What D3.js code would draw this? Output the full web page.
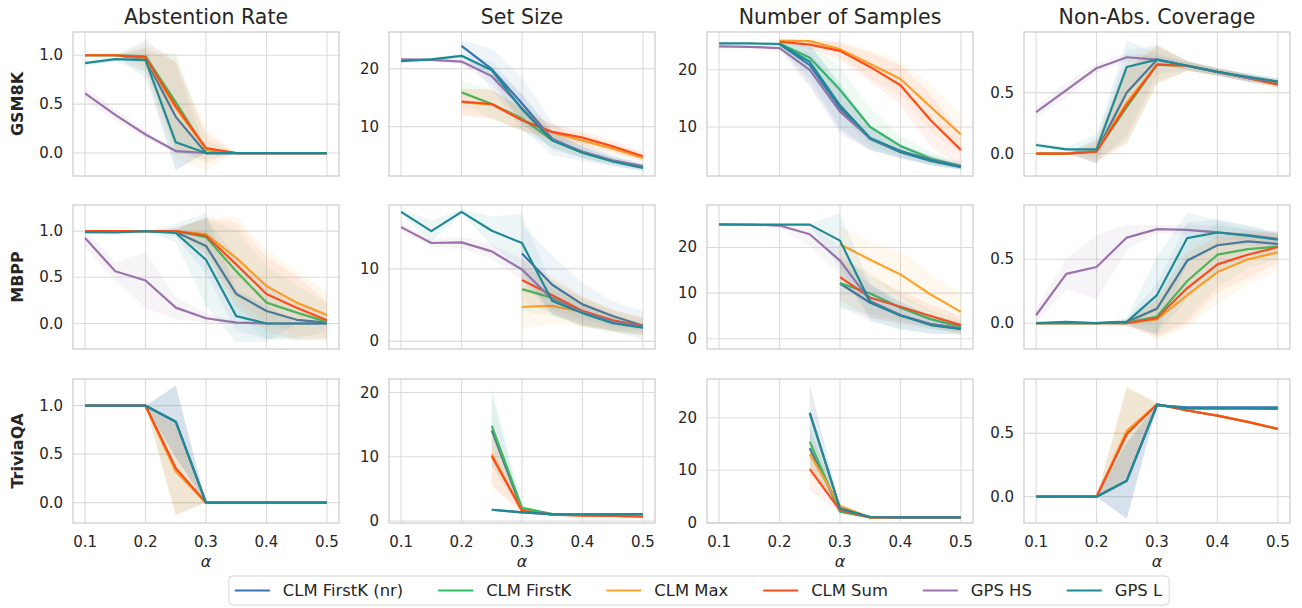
<!DOCTYPE html>
<html>
<head>
<meta charset="utf-8">
<script src="https://cdn.jsdelivr.net/npm/d3@7"></script>
<style>
  body { margin: 0; background: #fff; }
  text { font-family: "DejaVu Sans", sans-serif; fill: #262626; }
</style>
</head>
<body>
<svg id="chart" width="1302" height="608"></svg>
<script>
// alpha levels on the x axis
const alphas = [0.1, 0.15, 0.2, 0.25, 0.3, 0.35, 0.4, 0.45, 0.5];
const methods = ["CLM FirstK (nr)", "CLM FirstK", "CLM Max", "CLM Sum", "GPS HS", "GPS L"];
const colors = ["#3574b4", "#2fbf62", "#fba52c", "#fc4e1a", "#9c73ab", "#1f8a94"];
const datasets = ["GSM8K", "MBPP", "TriviaQA"];
const metrics = ["Abstention Rate", "Set Size", "Number of Samples", "Non-Abs. Coverage"];
const xTicks = [0.1, 0.2, 0.3, 0.4, 0.5];

// each panel: one row per method (same order as methods), mean and sd
const gsm8kAbstention = [
  [1, 1, 0.96, 0.37, 0, 0, 0, 0, 0],
  [1, 1, 0.99, 0.52, 0.03, 0, 0, 0, 0],
  [1, 1, 0.97, 0.46, 0.04, 0, 0, 0, 0],
  [1, 1, 0.98, 0.48, 0.05, 0, 0, 0, 0],
  [0.61, 0.39, 0.19, 0.02, 0, 0, 0, 0, 0],
  [0.92, 0.96, 0.95, 0.11, 0, 0, 0, 0, 0]
];
const gsm8kAbstentionSd = [
  [0, 0, 0.2, 0.55, 0, 0, 0, 0, 0],
  [0, 0, 0.03, 0.5, 0.1, 0, 0, 0, 0],
  [0, 0, 0.15, 0.52, 0.21, 0, 0, 0, 0],
  [0, 0, 0.1, 0.45, 0.15, 0, 0, 0, 0],
  [0.06, 0.06, 0.04, 0.02, 0, 0, 0, 0, 0],
  [0.03, 0.03, 0.12, 0.28, 0, 0, 0, 0, 0]
];
const gsm8kSetSize = [
  [null, null, 23.9, 19.9, 14.0, 7.9, 5.6, 4.1, 3.0],
  [null, null, 15.9, 13.9, 11.4, 7.7, 5.5, 4.1, 3.0],
  [null, null, 14.2, 13.8, 11.2, 9.0, 7.6, 6.2, 4.6],
  [null, null, 14.3, 13.9, 11.1, 9.1, 8.1, 6.6, 4.9],
  [21.6, 21.5, 21.2, 18.7, 13.2, 7.8, 5.7, 4.2, 3.2],
  [21.3, 21.6, 22.2, 19.7, 13.0, 7.6, 5.5, 4.0, 2.9]
];
const gsm8kSetSizeSd = [
  [0, 0, 1.0, 3.5, 4.5, 2.8, 1.5, 1.0, 0.6],
  [0, 0, 2.0, 2.5, 2.0, 1.2, 0.9, 0.7, 0.5],
  [0, 0, 2.3, 2.5, 2.0, 1.3, 1.2, 1.0, 0.8],
  [0, 0, 2.2, 2.5, 1.8, 1.3, 1.2, 1.0, 0.8],
  [0.3, 0.3, 0.5, 1.5, 2.5, 1.5, 1.0, 0.7, 0.5],
  [0.3, 0.3, 0.5, 1.5, 2.5, 1.5, 1.0, 0.7, 0.5]
];
const gsm8kSamples = [
  [null, null, 24.5, 20.8, 13.3, 7.9, 5.6, 4.1, 3.0],
  [null, null, 24.6, 22.1, 16.5, 10.0, 6.7, 4.5, 3.2],
  [null, null, 25.1, 25.0, 23.6, 21.0, 18.4, 13.5, 8.7],
  [null, null, 24.9, 24.4, 23.3, 20.5, 17.3, 11.2, 6.0],
  [24.1, 24.0, 23.8, 20.0, 12.7, 8.0, 5.8, 4.3, 3.2],
  [24.6, 24.6, 24.5, 21.4, 13.8, 8.1, 5.8, 4.2, 3.1]
];
const gsm8kSamplesSd = [
  [0, 0, 0.5, 3.5, 4.0, 2.0, 1.2, 0.8, 0.5],
  [0, 0, 0.4, 2.5, 4.0, 3.3, 1.8, 1.2, 0.7],
  [0, 0, 0.2, 0.6, 1.2, 2.5, 3.0, 4.0, 3.5],
  [0, 0, 0.3, 0.8, 1.5, 2.5, 3.5, 4.5, 3.0],
  [0.3, 0.3, 0.5, 3.0, 4.0, 2.0, 1.2, 0.8, 0.5],
  [0.2, 0.2, 0.4, 3.0, 4.0, 2.0, 1.2, 0.8, 0.5]
];
const gsm8kCoverage = [
  [0, 0, 0.02, 0.5, 0.77, 0.72, 0.67, 0.62, 0.585],
  [0, 0, 0.02, 0.38, 0.73, 0.72, 0.67, 0.62, 0.57],
  [0, 0, 0.02, 0.42, 0.73, 0.72, 0.67, 0.62, 0.57],
  [0, 0, 0.015, 0.40, 0.73, 0.72, 0.67, 0.62, 0.565],
  [0.34, 0.52, 0.70, 0.79, 0.77, 0.72, 0.67, 0.62, 0.59],
  [0.07, 0.035, 0.035, 0.71, 0.77, 0.72, 0.67, 0.63, 0.59]
];
const gsm8kCoverageSd = [
  [0, 0, 0.1, 0.35, 0.12, 0.04, 0.03, 0.03, 0.03],
  [0, 0, 0.05, 0.3, 0.15, 0.04, 0.03, 0.03, 0.03],
  [0, 0, 0.1, 0.35, 0.17, 0.04, 0.03, 0.03, 0.03],
  [0, 0, 0.08, 0.3, 0.15, 0.04, 0.03, 0.03, 0.03],
  [0.05, 0.06, 0.04, 0.03, 0.03, 0.03, 0.03, 0.03, 0.03],
  [0.02, 0.02, 0.12, 0.22, 0.05, 0.03, 0.03, 0.03, 0.03]
];

const mbppAbstention = [
  [1, 1, 1, 0.99, 0.84, 0.32, 0.136, 0.04, 0.01],
  [1, 1, 1, 1, 0.935, 0.566, 0.226, 0.118, 0.018],
  [1, 1, 1, 1, 0.968, 0.71, 0.405, 0.226, 0.093],
  [1, 1, 1, 1, 0.95, 0.64, 0.32, 0.17, 0.036],
  [0.925, 0.566, 0.466, 0.172, 0.057, 0.01, 0, 0, 0],
  [0.99, 0.985, 1.0, 0.98, 0.69, 0.08, 0, 0, 0]
];
const mbppAbstentionSd = [
  [0, 0, 0, 0.05, 0.3, 0.4, 0.3, 0.2, 0.1],
  [0, 0, 0, 0.03, 0.2, 0.45, 0.4, 0.3, 0.2],
  [0, 0, 0, 0.02, 0.18, 0.45, 0.4, 0.35, 0.25],
  [0, 0, 0, 0.02, 0.2, 0.45, 0.4, 0.35, 0.2],
  [0.1, 0.1, 0.3, 0.12, 0.05, 0.02, 0, 0, 0],
  [0.02, 0.02, 0, 0.1, 0.5, 0.28, 0.2, 0, 0]
];
const mbppSetSize = [
  [null, null, null, null, 12.1, 7.8, 5.1, 3.5, 2.15],
  [null, null, null, null, 7.2, 6.0, 4.0, 2.7, 2.0],
  [null, null, null, null, 4.75, 4.9, 4.05, 2.9, 2.0],
  [null, null, null, null, 8.45, 6.35, 4.2, 2.9, 2.1],
  [15.75, 13.56, 13.65, 12.4, 9.9, 5.8, 4.0, 2.7, 2.0],
  [17.85, 15.2, 17.85, 15.25, 13.56, 5.57, 3.9, 2.5, 1.9]
];
const mbppSetSizeSd = [
  [0, 0, 0, 0, 4, 4, 3, 2, 2],
  [0, 0, 0, 0, 3, 2.5, 2, 1.5, 1.2],
  [0, 0, 0, 0, 3, 2.5, 2, 1.5, 1.2],
  [0, 0, 0, 0, 3, 2.5, 2, 1.5, 1.2],
  [0.5, 0.5, 0.8, 1, 1.5, 1.5, 1, 0.7, 0.5],
  [0.3, 1.5, 0.3, 2, 4, 2, 1.5, 1, 0.6]
];
const mbppSamples = [
  [null, null, null, null, 12.1, 7.9, 5.1, 3.2, 2.3],
  [null, null, null, null, 12.2, 9.9, 6.8, 4.3, 2.6],
  [null, null, null, null, 20.7, 17.3, 14.1, 9.7, 5.9],
  [null, null, null, null, 13.5, 9.0, 7.0, 5.0, 3.0],
  [25, 25, 24.8, 22.9, 17.1, 8.3, 5.2, 3.2, 2.3],
  [25.07, 25, 25, 25, 21.5, 8.0, 5.1, 3.0, 2.1]
];
const mbppSamplesSd = [
  [0, 0, 0, 0, 5, 4, 3, 2, 1.5],
  [0, 0, 0, 0, 5.5, 4.5, 3, 2, 1.5],
  [0, 0, 0, 0, 4, 4, 5, 4.5, 4],
  [0, 0, 0, 0, 5, 4.5, 3.5, 2.5, 2],
  [0, 0, 0.3, 2.5, 3, 3.5, 2, 1.2, 0.8],
  [0, 0, 0, 0.3, 6, 4, 3, 2, 1]
];
const mbppCoverage = [
  [0, 0, 0, 0.01, 0.114, 0.49, 0.61, 0.64, 0.62],
  [0, 0, 0, 0.005, 0.052, 0.33, 0.536, 0.58, 0.60],
  [0, 0, 0, 0, 0.03, 0.22, 0.40, 0.50, 0.554],
  [0, 0, 0, 0, 0.04, 0.275, 0.46, 0.536, 0.596],
  [0.062, 0.386, 0.44, 0.67, 0.736, 0.73, 0.71, 0.69, 0.66],
  [0, 0.01, 0, 0.01, 0.22, 0.666, 0.71, 0.686, 0.653]
];
const mbppCoverageSd = [
  [0, 0, 0, 0.02, 0.2, 0.3, 0.2, 0.12, 0.08],
  [0, 0, 0, 0.02, 0.15, 0.3, 0.25, 0.15, 0.1],
  [0, 0, 0, 0.02, 0.15, 0.25, 0.25, 0.2, 0.15],
  [0, 0, 0, 0.02, 0.15, 0.28, 0.22, 0.18, 0.12],
  [0.05, 0.12, 0.25, 0.1, 0.03, 0.04, 0.05, 0.05, 0.05],
  [0, 0.01, 0, 0.03, 0.3, 0.2, 0.1, 0.08, 0.06]
];

const triviaAbstention = [
  [1, 1, 1, 0.835, 0, 0, 0, 0, 0],
  [1, 1, 1, 0.34, 0, 0, 0, 0, 0],
  [1, 1, 1, 0.32, 0, 0, 0, 0, 0],
  [1, 1, 1, 0.355, 0, 0, 0, 0, 0],
  [1, 1, 1, 0.835, 0, 0, 0, 0, 0],
  [1, 1, 1, 0.835, 0, 0, 0, 0, 0]
];
const triviaAbstentionSd = [
  [0, 0, 0, 0.37, 0, 0, 0, 0, 0],
  [0, 0, 0, 0.47, 0, 0, 0, 0, 0],
  [0, 0, 0, 0.47, 0, 0, 0, 0, 0],
  [0, 0, 0, 0.47, 0, 0, 0, 0, 0],
  [0, 0, 0, 0.37, 0, 0, 0, 0, 0],
  [0, 0, 0, 0.37, 0, 0, 0, 0, 0]
];
const triviaSetSize = [
  [null, null, null, 14.1, 1.7, 1.0, 1.0, 1.0, 1.0],
  [null, null, null, 14.8, 2.07, 1.1, 1.0, 1.0, 1.0],
  [null, null, null, 10.4, 1.6, 1.0, 0.9, 0.8, 0.7],
  [null, null, null, 10.1, 1.6, 1.0, 0.85, 0.8, 0.7],
  [null, null, null, 1.76, 1.35, 1.09, 1.05, 1.05, 1.1],
  [null, null, null, 1.76, 1.35, 1.09, 1.05, 1.05, 1.1]
];
const triviaSetSizeSd = [
  [0, 0, 0, 5.5, 0.5, 0.2, 0, 0, 0],
  [0, 0, 0, 6, 0.5, 0.2, 0, 0, 0],
  [0, 0, 0, 5, 0.4, 0.1, 0, 0, 0],
  [0, 0, 0, 4.5, 0.4, 0.1, 0, 0, 0],
  [0, 0, 0, 0.2, 0.2, 0.1, 0, 0, 0],
  [0, 0, 0, 0.2, 0.2, 0.1, 0, 0, 0]
];
const triviaSamples = [
  [null, null, null, 14.2, 2.3, 1, 1, 1, 1],
  [null, null, null, 15.4, 2.1, 1, 1, 1, 1],
  [null, null, null, 13.1, 3.2, 1, 1, 1, 1],
  [null, null, null, 10.2, 2.4, 1, 1, 1, 1],
  [null, null, null, 20.95, 2.7, 1.08, 1, 1, 1],
  [null, null, null, 20.95, 2.7, 1.08, 1, 1, 1]
];
const triviaSamplesSd = [
  [0, 0, 0, 4, 0.5, 0, 0, 0, 0],
  [0, 0, 0, 4.5, 0.5, 0, 0, 0, 0],
  [0, 0, 0, 4, 0.8, 0, 0, 0, 0],
  [0, 0, 0, 4, 0.5, 0, 0, 0, 0],
  [0, 0, 0, 5.5, 0.5, 0.1, 0, 0, 0],
  [0, 0, 0, 5.5, 0.5, 0.1, 0, 0, 0]
];
const triviaCoverage = [
  [0, 0, 0, 0.126, 0.72, 0.705, 0.705, 0.705, 0.705],
  [0, 0, 0, 0.50, 0.73, 0.68, 0.64, 0.59, 0.534],
  [0, 0, 0, 0.52, 0.73, 0.68, 0.64, 0.59, 0.537],
  [0, 0, 0, 0.495, 0.73, 0.68, 0.64, 0.59, 0.534],
  [0, 0, 0, 0.126, 0.724, 0.697, 0.697, 0.697, 0.695],
  [0, 0, 0, 0.126, 0.724, 0.697, 0.697, 0.697, 0.695]
];
const triviaCoverageSd = [
  [0, 0, 0, 0.3, 0.01, 0.01, 0.01, 0.01, 0.01],
  [0, 0, 0, 0.36, 0.01, 0.005, 0.005, 0.005, 0.005],
  [0, 0, 0, 0.36, 0.01, 0.005, 0.005, 0.005, 0.005],
  [0, 0, 0, 0.36, 0.01, 0.005, 0.005, 0.005, 0.005],
  [0, 0, 0, 0.3, 0.01, 0.01, 0.01, 0.01, 0.01],
  [0, 0, 0, 0.3, 0.01, 0.01, 0.01, 0.01, 0.01]
];

// panel setup (axis limits follow the reference's autoscaled limits)
const panels = [
  { row: 0, col: 0, mean: gsm8kAbstention, sd: gsm8kAbstentionSd, domain: [-0.235, 1.238], ticks: [0, 0.5, 1], fmt: ".1f" },
  { row: 0, col: 1, mean: gsm8kSetSize, sd: gsm8kSetSizeSd, domain: [1.5, 26.3], ticks: [10, 20], fmt: "d" },
  { row: 0, col: 2, mean: gsm8kSamples, sd: gsm8kSamplesSd, domain: [1.45, 26.6], ticks: [10, 20], fmt: "d" },
  { row: 0, col: 3, mean: gsm8kCoverage, sd: gsm8kCoverageSd, domain: [-0.184, 0.997], ticks: [0, 0.5], fmt: ".1f" },
  { row: 1, col: 0, mean: mbppAbstention, sd: mbppAbstentionSd, domain: [-0.276, 1.283], ticks: [0, 0.5, 1], fmt: ".1f" },
  { row: 1, col: 1, mean: mbppSetSize, sd: mbppSetSizeSd, domain: [-1.05, 18.8], ticks: [0, 10], fmt: "d" },
  { row: 1, col: 2, mean: mbppSamples, sd: mbppSamplesSd, domain: [-2.24, 29.3], ticks: [0, 10, 20], fmt: "d" },
  { row: 1, col: 3, mean: mbppCoverage, sd: mbppCoverageSd, domain: [-0.202, 0.925], ticks: [0, 0.5], fmt: ".1f" },
  { row: 2, col: 0, mean: triviaAbstention, sd: triviaAbstentionSd, domain: [-0.21, 1.275], ticks: [0, 0.5, 1], fmt: ".1f" },
  { row: 2, col: 1, mean: triviaSetSize, sd: triviaSetSizeSd, domain: [-0.3, 22.1], ticks: [0, 10, 20], fmt: "d" },
  { row: 2, col: 2, mean: triviaSamples, sd: triviaSamplesSd, domain: [-0.06, 27.4], ticks: [0, 10, 20], fmt: "d" },
  { row: 2, col: 3, mean: triviaCoverage, sd: triviaCoverageSd, domain: [-0.208, 0.929], ticks: [0, 0.5], fmt: ".1f" }
];

const colLeft = [73, 389, 707, 1024];
const rowTop = [32, 205, 379];
const pw = 266, ph = 144;

const svg = d3.select("#chart");
const x = d3.scaleLinear().domain([0.08, 0.52]).range([0, pw]);

panels.forEach((p, i) => {
  const y = d3.scaleLinear().domain(p.domain).range([ph, 0]);
  const g = svg.append("g").attr("transform", `translate(${colLeft[p.col]},${rowTop[p.row]})`);

  g.append("clipPath").attr("id", "clip" + i)
    .append("rect").attr("width", pw).attr("height", ph);

  // grid
  g.selectAll(".gy").data(p.ticks).enter().append("line")
    .attr("x1", 0).attr("x2", pw)
    .attr("y1", d => y(d)).attr("y2", d => y(d))
    .attr("stroke", "#dcdcdc").attr("stroke-width", 1.1);
  g.selectAll(".gx").data(xTicks).enter().append("line")
    .attr("y1", 0).attr("y2", ph)
    .attr("x1", d => x(d)).attr("x2", d => x(d))
    .attr("stroke", "#dcdcdc").attr("stroke-width", 1.1);

  // y tick labels
  const f = d3.format(p.fmt);
  g.selectAll(".ty").data(p.ticks).enter().append("text")
    .attr("x", -10).attr("y", d => y(d))
    .attr("text-anchor", "end").attr("dominant-baseline", "central")
    .style("font-size", "15px")
    .text(d => f(d));

  const plot = g.append("g").attr("clip-path", `url(#clip${i})`);
  methods.forEach((m, k) => {
    const pts = alphas.map((a, j) => ({ a: a, v: p.mean[k][j], s: p.sd[k][j] }));
    const line = d3.line().defined(d => d.v !== null)
      .x(d => x(d.a)).y(d => y(d.v));
    const area = d3.area().defined(d => d.v !== null)
      .x(d => x(d.a)).y0(d => y(d.v - d.s)).y1(d => y(d.v + d.s));
    plot.append("path").datum(pts)
      .attr("d", line).attr("fill", "none")
      .attr("stroke", colors[k]).attr("stroke-width", 2.2)
      .attr("stroke-linejoin", "round");
    plot.append("path").datum(pts)
      .attr("d", area).attr("fill", colors[k]).attr("fill-opacity", 0.08)
      .attr("stroke", "none");
  });

  // frame
  g.append("rect").attr("width", pw).attr("height", ph)
    .attr("fill", "none").attr("stroke", "#cccccc").attr("stroke-width", 1.25);

  if (p.row === 0) {
    g.append("text").attr("x", pw / 2).attr("y", -15)
      .attr("text-anchor", "middle").attr("dominant-baseline", "central")
      .style("font-size", "20.5px").text(metrics[p.col]);
  }
  if (p.col === 0) {
    g.append("text")
      .attr("transform", `translate(${-56},${ph / 2}) rotate(-90)`)
      .attr("text-anchor", "middle").attr("dominant-baseline", "central")
      .style("font-size", "16px").style("font-weight", "bold")
      .text(datasets[p.row]);
  }
  if (p.row === 2) {
    g.selectAll(".tx").data(xTicks).enter().append("text")
      .attr("x", d => x(d)).attr("y", ph + 19)
      .attr("text-anchor", "middle").attr("dominant-baseline", "central")
      .style("font-size", "15px")
      .text(d => d3.format(".1f")(d));
    g.append("text").attr("x", pw / 2).attr("y", ph + 38)
      .attr("text-anchor", "middle").attr("dominant-baseline", "central")
      .style("font-size", "16px").style("font-style", "italic")
      .text("α");
  }
});

// legend
const leg = svg.append("g");
const box = leg.append("rect");
let lx = 6;
const items = leg.append("g");
methods.forEach((m, k) => {
  const it = items.append("g").attr("transform", `translate(${lx},0)`);
  it.append("line").attr("x1", 0).attr("x2", 35).attr("y1", 0).attr("y2", 0)
    .attr("stroke", colors[k]).attr("stroke-width", 2.2);
  const t = it.append("text").attr("x", 48).attr("y", 0)
    .attr("dominant-baseline", "central").style("font-size", "16.4px").text(m);
  lx += 48 + t.node().getComputedTextLength() + 35;
});
const legW = lx - 35 + 7;
box.attr("x", 0).attr("y", -14.5).attr("width", legW).attr("height", 29)
  .attr("rx", 4).attr("fill", "#fff").attr("stroke", "#d6d6d6").attr("stroke-width", 1);
leg.attr("transform", `translate(${699 - legW / 2},${590.5})`);
</script>
</body>
</html>
